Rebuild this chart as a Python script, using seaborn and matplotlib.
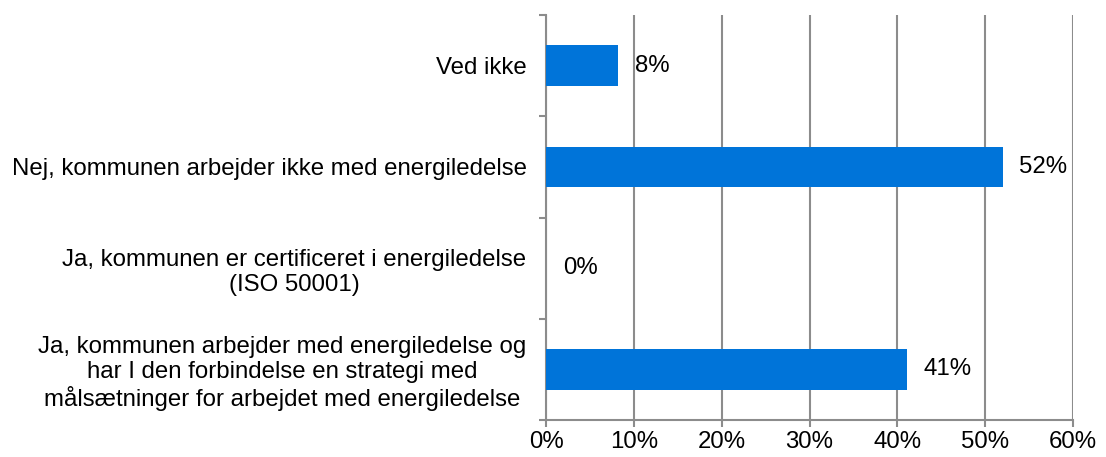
#!/usr/bin/env python3

import matplotlib.pyplot as plt
import numpy as np
import pandas as pd
import seaborn as sns
from matplotlib.ticker import FixedLocator, PercentFormatter

categories = [
    'Ved ikke',
    'Nej, kommunen arbejder ikke med energiledelse',
    'Ja, kommunen er certificeret i energiledelse\n(ISO 50001)',
    'Ja, kommunen arbejder med energiledelse og\nhar I den forbindelse en strategi med\nmålsætninger for arbejdet med energiledelse',
]
shares = [8.2, 52.0, 0.0, 41.1]
share_labels = ['8%', '52%', '0%', '41%']

data = pd.DataFrame({'category': categories, 'share': shares})

sns.set_style('white')
plt.rcParams['font.family'] = ['Liberation Sans', 'DejaVu Sans']
plt.rcParams['text.color'] = 'black'
plt.rcParams['xtick.color'] = 'black'
plt.rcParams['ytick.color'] = 'black'

fs = 17.3

fig = plt.figure(figsize=(11.06, 4.57), dpi=100)
ax = fig.add_axes([0.4937, 0.081, 0.4765, 0.886])

grey = '#8c8c8c'
sns.barplot(data=data, x='share', y='category', orient='h', color='#0074d9',
            width=0.4, saturation=1, linewidth=0, ax=ax, zorder=3)

ax.set_xlim(0, 60)
ax.set_ylim(len(categories) - 0.5, -0.5)
ax.xaxis.set_major_locator(FixedLocator(np.arange(0, 61, 10)))
ax.xaxis.set_major_formatter(PercentFormatter(decimals=0))
ax.grid(axis='x', color=grey, linewidth=1.5, zorder=0)
ax.grid(axis='y', visible=False)

for side in ['top', 'right']:
    ax.spines[side].set_visible(False)
for side in ['left', 'bottom']:
    ax.spines[side].set_color(grey)
    ax.spines[side].set_linewidth(1.5)

ax.tick_params(axis='x', length=5, width=1.5, color=grey, labelcolor='black',
               labelsize=fs, pad=3, direction='out', bottom=True)
ax.tick_params(axis='y', which='major', length=0, labelsize=fs, pad=14,
               labelcolor='black')
ax.yaxis.set_minor_locator(FixedLocator(np.arange(-0.5, len(categories), 1)))
ax.tick_params(axis='y', which='minor', length=5, width=1.5, color=grey,
               direction='out', left=True)

for label in ax.get_yticklabels():
    label.set_multialignment('center')
    label.set_linespacing(1.17)

for i, (val, txt) in enumerate(zip(shares, share_labels)):
    ax.text(val + 1.9, i, txt, va='center', ha='left', fontsize=fs, zorder=4)

ax.set_xlabel('')
ax.set_ylabel('')

plt.savefig('out.png', dpi=100)
plt.close()
